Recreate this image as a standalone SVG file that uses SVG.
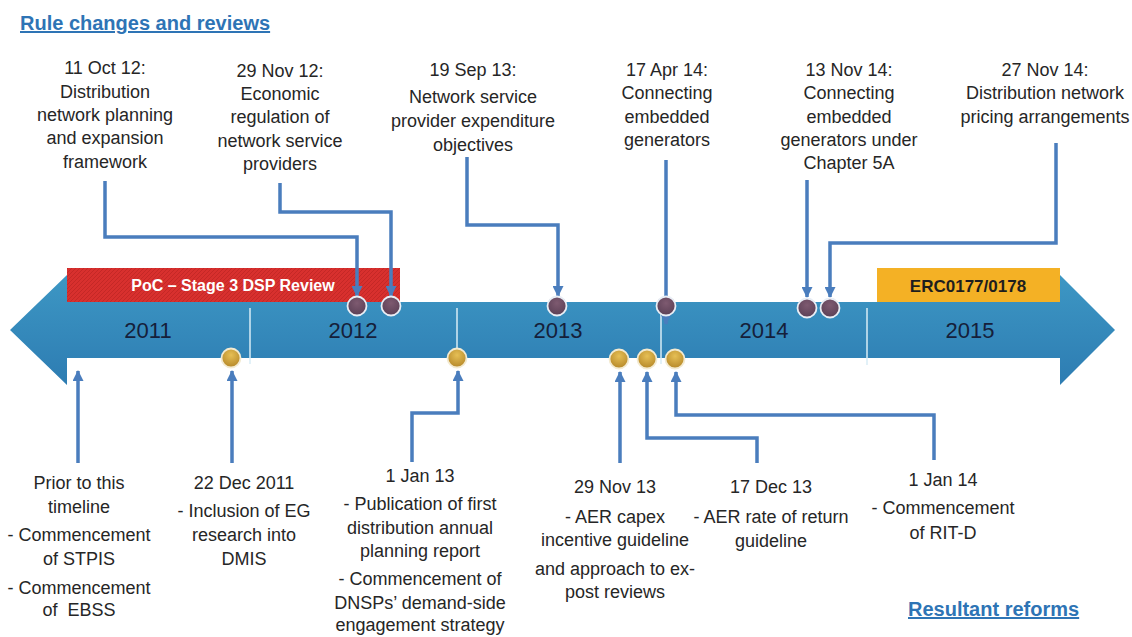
<svg xmlns="http://www.w3.org/2000/svg" width="1132" height="637" viewBox="0 0 1132 637">
<defs>
<style>
.t{font-family:"Liberation Sans",Arial,sans-serif;font-size:18px;fill:#262626;text-anchor:middle;white-space:pre}
.yr{font-family:"Liberation Sans",Arial,sans-serif;font-size:22px;fill:#15203a;text-anchor:middle}
.hd{font-family:"Liberation Sans",Arial,sans-serif;font-size:20px;font-weight:bold;fill:#2e74b5;text-decoration:underline}
.bn{font-family:"Liberation Sans",Arial,sans-serif;font-weight:bold;text-anchor:middle}
.cn{fill:none;stroke:#4a7dbd;stroke-width:3.5;marker-end:url(#ah)}
.dv{stroke:#d8ecf6;stroke-width:1.5}
.cp{fill:url(#gp);stroke:#e9eef5;stroke-width:1.8}
.cy{fill:url(#gy);stroke:#f3ead0;stroke-width:1.8}
</style>
<linearGradient id="gb" x1="0" y1="0" x2="0" y2="1">
<stop offset="0" stop-color="#3d97c4"/>
<stop offset="1" stop-color="#2d7cb2"/>
</linearGradient>
<radialGradient id="gp" cx="0.5" cy="0.35" r="0.6">
<stop offset="0" stop-color="#7e5a70"/>
<stop offset="1" stop-color="#5e4258"/>
</radialGradient>
<radialGradient id="gy" cx="0.5" cy="0.35" r="0.6">
<stop offset="0" stop-color="#e6bf55"/>
<stop offset="1" stop-color="#b98c2c"/>
</radialGradient>
<pattern id="hatch" width="4" height="4" patternUnits="userSpaceOnUse">
<rect width="4" height="4" fill="#d8302e"/>
<path d="M0,4 L4,0" stroke="#c42826" stroke-width="1"/>
</pattern>
<marker id="ah" markerUnits="userSpaceOnUse" markerWidth="11" markerHeight="11" refX="10" refY="5.5" orient="auto" viewBox="0 0 11 11">
<path d="M0,0 L11,5.5 L0,11 Z" fill="#4a7dbd"/>
</marker>
</defs>
<rect width="1132" height="637" fill="#ffffff"/>

<text class="hd" x="20" y="30">Rule changes and reviews</text>
<text class="hd" x="908" y="616">Resultant reforms</text>

<g id="timeline">
<path d="M10,330 L67,275 L67,302 L1060,302 L1060,275 L1115,330 L1060,385 L1060,358 L67,358 L67,385 Z" fill="url(#gb)"/>
<line class="dv" x1="250" y1="308" x2="250" y2="364"/>
<line class="dv" x1="457" y1="308" x2="457" y2="365"/>
<line class="dv" x1="661" y1="310" x2="661" y2="364"/>
<line class="dv" x1="867" y1="308" x2="867" y2="365"/>
<text class="yr" x="148" y="338">2011</text>
<text class="yr" x="353" y="338">2012</text>
<text class="yr" x="558" y="338">2013</text>
<text class="yr" x="764" y="338">2014</text>
<text class="yr" x="970" y="338">2015</text>
</g>

<g id="poc-banner">
<rect x="67" y="268" width="333" height="34" fill="url(#hatch)"/>
<text class="bn" x="233" y="291" font-size="16" fill="#ffffff">PoC – Stage 3 DSP Review</text>
</g>
<g id="erc-banner">
<rect x="877" y="268" width="183" height="34" fill="#f4b125"/>
<text class="bn" x="968" y="292" font-size="17" fill="#1e1e1e">ERC0177/0178</text>
</g>

<g id="connectors">
<path class="cn" d="M105,181 V237 H357 V296"/>
<path class="cn" d="M280,183 V212 H391 V296"/>
<path class="cn" d="M467,157 V225 H558 V296"/>
<path class="cn" d="M666,160 V324"/>
<path class="cn" d="M807,180 V297"/>
<path class="cn" d="M1056,143 V243 H830 V297"/>
<path class="cn" d="M78,463 V371"/>
<path class="cn" d="M232,463 V371"/>
<path class="cn" d="M412,462 V413 H458 V371"/>
<path class="cn" d="M620,463 V372"/>
<path class="cn" d="M757,463 V438 H647 V372"/>
<path class="cn" d="M934,460 V415 H676 V372"/>
</g>

<g id="markers">
<circle class="cp" cx="357" cy="306" r="9.5"/>
<circle class="cp" cx="391" cy="306" r="9.5"/>
<circle class="cp" cx="557" cy="306" r="9.5"/>
<circle class="cp" cx="666" cy="306" r="9.5"/>
<circle class="cp" cx="807" cy="308" r="9.5"/>
<circle class="cp" cx="830" cy="308" r="9.5"/>
<circle class="cy" cx="231" cy="358" r="9.5"/>
<circle class="cy" cx="457" cy="358" r="9.5"/>
<circle class="cy" cx="619" cy="359" r="9.5"/>
<circle class="cy" cx="647" cy="359" r="9.5"/>
<circle class="cy" cx="675" cy="359" r="9.5"/>
</g>

<g id="rc-11oct12">
<text class="t" x="105" y="74">11 Oct 12:</text>
<text class="t" x="105" y="98">Distribution</text>
<text class="t" x="105" y="121">network planning</text>
<text class="t" x="105" y="144">and expansion</text>
<text class="t" x="105" y="168">framework</text>
</g>
<g id="rc-29nov12">
<text class="t" x="280" y="77">29 Nov 12:</text>
<text class="t" x="280" y="100">Economic</text>
<text class="t" x="280" y="123">regulation of</text>
<text class="t" x="280" y="147">network service</text>
<text class="t" x="280" y="170">providers</text>
</g>
<g id="rc-19sep13">
<text class="t" x="473" y="76">19 Sep 13:</text>
<text class="t" x="473" y="103">Network service</text>
<text class="t" x="473" y="127">provider expenditure</text>
<text class="t" x="473" y="151">objectives</text>
</g>
<g id="rc-17apr14">
<text class="t" x="667" y="76">17 Apr 14:</text>
<text class="t" x="667" y="99">Connecting</text>
<text class="t" x="667" y="123">embedded</text>
<text class="t" x="667" y="146">generators</text>
</g>
<g id="rc-13nov14">
<text class="t" x="849" y="76">13 Nov 14:</text>
<text class="t" x="849" y="99">Connecting</text>
<text class="t" x="849" y="123">embedded</text>
<text class="t" x="849" y="146">generators under</text>
<text class="t" x="849" y="169">Chapter 5A</text>
</g>
<g id="rc-27nov14">
<text class="t" x="1045" y="76">27 Nov 14:</text>
<text class="t" x="1045" y="99">Distribution network</text>
<text class="t" x="1045" y="123">pricing arrangements</text>
</g>

<g id="rf-prior">
<text class="t" x="79" y="489">Prior to this</text>
<text class="t" x="79" y="513">timeline</text>
<text class="t" x="79" y="541">- Commencement</text>
<text class="t" x="79" y="565">of STPIS</text>
<text class="t" x="79" y="594">- Commencement</text>
<text class="t" x="79" y="616">of  EBSS</text>
</g>
<g id="rf-22dec11">
<text class="t" x="244" y="489">22 Dec 2011</text>
<text class="t" x="244" y="517">- Inclusion of EG</text>
<text class="t" x="244" y="541">research into</text>
<text class="t" x="244" y="565">DMIS</text>
</g>
<g id="rf-1jan13">
<text class="t" x="420" y="482" font-size="17">1 Jan 13</text>
<text class="t" x="420" y="510">- Publication of first</text>
<text class="t" x="420" y="534">distribution annual</text>
<text class="t" x="420" y="557">planning report</text>
<text class="t" x="420" y="585">- Commencement of</text>
<text class="t" x="420" y="609">DNSPs’ demand-side</text>
<text class="t" x="420" y="631">engagement strategy</text>
</g>
<g id="rf-29nov13">
<text class="t" x="615" y="493">29 Nov 13</text>
<text class="t" x="615" y="523">- AER capex</text>
<text class="t" x="615" y="546">incentive guideline</text>
<text class="t" x="615" y="575">and approach to ex-</text>
<text class="t" x="615" y="598">post reviews</text>
</g>
<g id="rf-17dec13">
<text class="t" x="771" y="493">17 Dec 13</text>
<text class="t" x="771" y="523">- AER rate of return</text>
<text class="t" x="771" y="547">guideline</text>
</g>
<g id="rf-1jan14">
<text class="t" x="943" y="486" font-size="17">1 Jan 14</text>
<text class="t" x="943" y="514">- Commencement</text>
<text class="t" x="943" y="539">of RIT-D</text>
</g>
</svg>
